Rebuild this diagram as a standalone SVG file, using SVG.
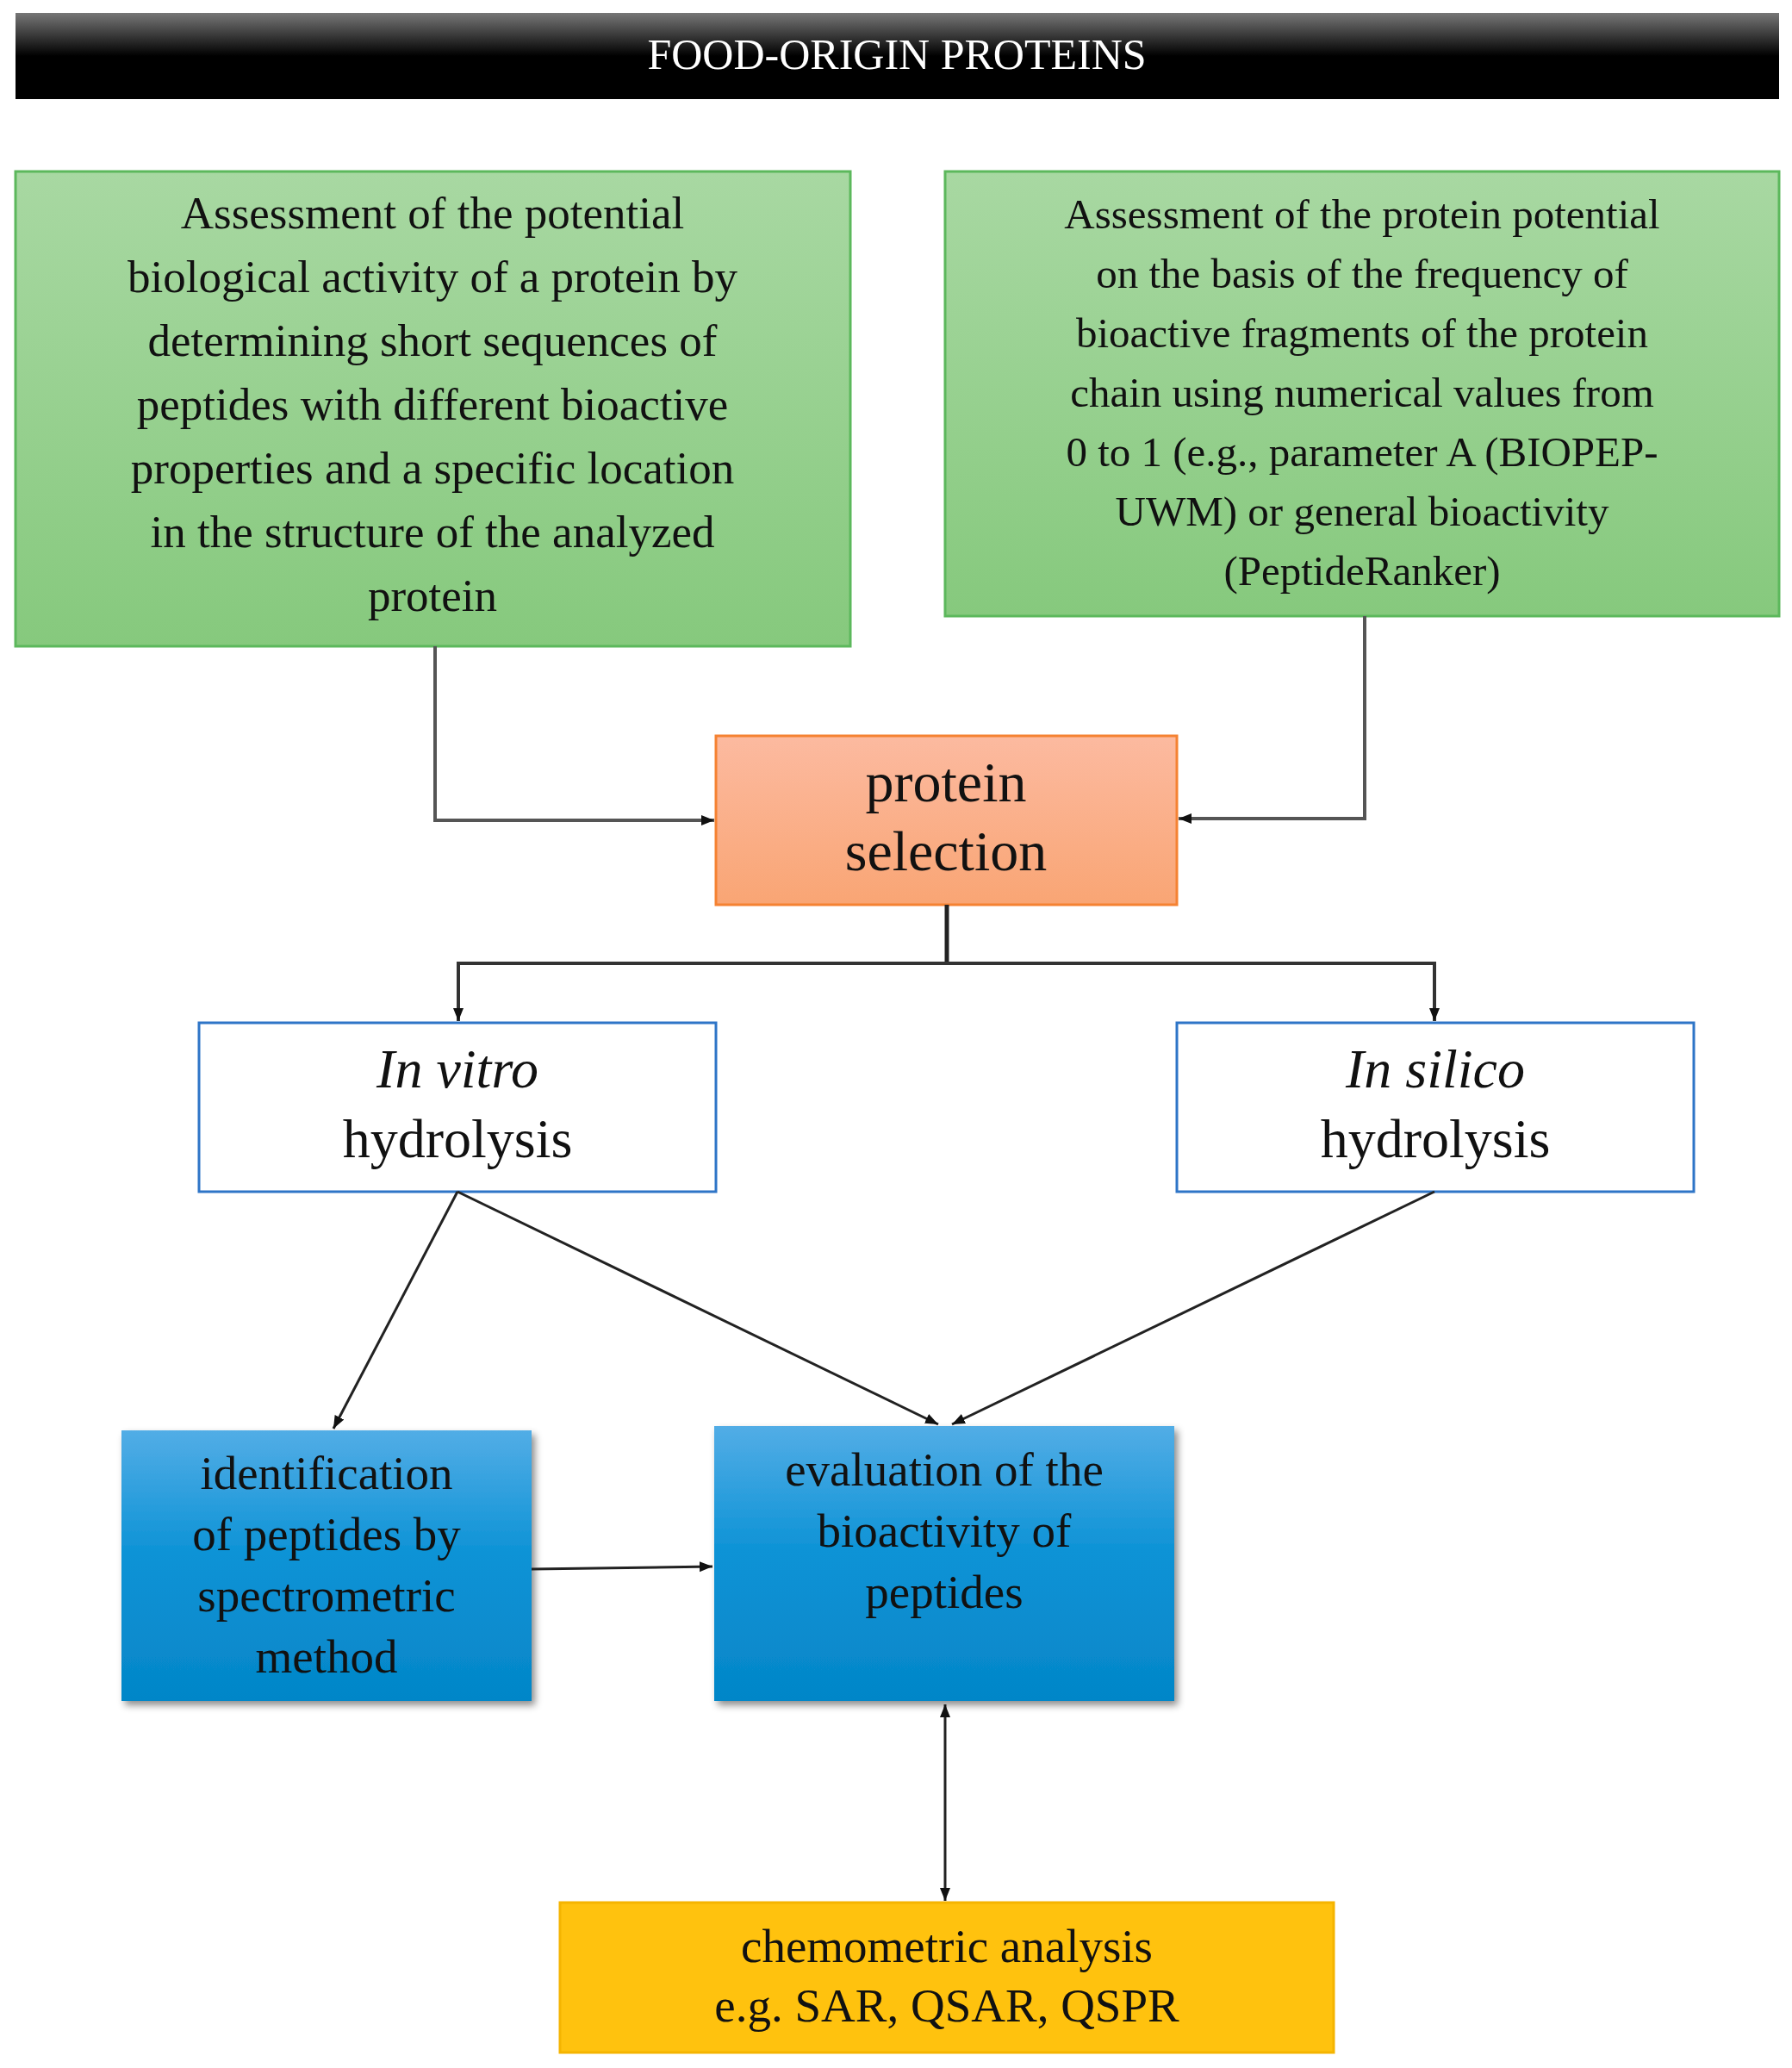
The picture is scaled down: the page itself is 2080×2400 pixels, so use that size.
<svg xmlns="http://www.w3.org/2000/svg" width="2080" height="2400" viewBox="0 0 2080 2400">
<style>
text{font-family:"Liberation Serif",serif;text-anchor:middle;fill:#111}
.g{fill:url(#gg);stroke:#5cb85c;stroke-width:3}
.c{stroke:#222;stroke-width:3;fill:none}
</style>
<defs>
<linearGradient id="hd" x1="0" y1="0" x2="0" y2="1"><stop offset="0" stop-color="#777"/><stop offset="0.5" stop-color="#000"/><stop offset="1" stop-color="#000"/></linearGradient>
<linearGradient id="gg" x1="0" y1="0" x2="0" y2="1"><stop offset="0" stop-color="#a8d8a2"/><stop offset="1" stop-color="#86c97d"/></linearGradient>
<linearGradient id="og" x1="0" y1="0" x2="0" y2="1"><stop offset="0" stop-color="#fcbaa0"/><stop offset="1" stop-color="#f9a574"/></linearGradient>
<linearGradient id="bg" x1="0" y1="0" x2="0" y2="1"><stop offset="0" stop-color="#52ade6"/><stop offset="0.45" stop-color="#0e93d6"/><stop offset="1" stop-color="#0486c8"/></linearGradient>
<filter id="sh" x="-10%" y="-10%" width="130%" height="130%"><feDropShadow dx="4" dy="5" stdDeviation="4" flood-opacity="0.45"/></filter>
<marker id="ar" markerWidth="10" markerHeight="10" refX="9" refY="5" orient="auto" markerUnits="userSpaceOnUse"><path d="M0,0 L10,5 L0,10z" fill="#111"/></marker>
<marker id="as" markerWidth="16" markerHeight="16" refX="15" refY="8" orient="auto-start-reverse" markerUnits="userSpaceOnUse"><path d="M0,2 L15,8 L0,14z" fill="#111"/></marker>
</defs>
<g id="header"><rect x="18" y="15" width="2047" height="100" fill="url(#hd)"/><text x="1041" y="80" font-size="50" style="fill:#fff">FOOD-ORIGIN PROTEINS</text></g>
<g id="left"><rect class="g" x="18" y="199" width="969" height="551"/>
<text font-size="53"><tspan x="502" y="265">Assessment of the potential</tspan><tspan x="502" y="339">biological activity of a protein by</tspan><tspan x="502" y="413">determining short sequences of</tspan><tspan x="502" y="487">peptides with different bioactive</tspan><tspan x="502" y="561">properties and a specific location</tspan><tspan x="502" y="635">in the structure of the analyzed</tspan><tspan x="502" y="709">protein</tspan></text></g>
<g id="right"><rect class="g" x="1097" y="199" width="968" height="516"/>
<text font-size="49"><tspan x="1581" y="265">Assessment of the protein potential</tspan><tspan x="1581" y="334">on the basis of the frequency of</tspan><tspan x="1581" y="403">bioactive fragments of the protein</tspan><tspan x="1581" y="472">chain using numerical values from</tspan><tspan x="1581" y="541">0 to 1 (e.g., parameter A (BIOPEP-</tspan><tspan x="1581" y="610">UWM) or general bioactivity</tspan><tspan x="1581" y="679">(PeptideRanker)</tspan></text></g>
<g id="sel"><rect x="831" y="854" width="535" height="196" fill="url(#og)" stroke="#f58232" stroke-width="3"/>
<text font-size="66"><tspan x="1098" y="930">protein</tspan><tspan x="1098" y="1010">selection</tspan></text></g>
<g id="vitro"><rect x="231" y="1187" width="600" height="196" fill="#fff" stroke="#2e75c7" stroke-width="3"/>
<text font-size="64"><tspan x="531" y="1262" font-style="italic">In vitro</tspan><tspan x="531" y="1343">hydrolysis</tspan></text></g>
<g id="silico"><rect x="1366" y="1187" width="600" height="196" fill="#fff" stroke="#2e75c7" stroke-width="3"/>
<text font-size="64"><tspan x="1666" y="1262" font-style="italic">In silico</tspan><tspan x="1666" y="1343">hydrolysis</tspan></text></g>
<g id="ident"><rect x="141" y="1660" width="476" height="314" fill="url(#bg)" filter="url(#sh)"/>
<text font-size="55"><tspan x="379" y="1728">identification</tspan><tspan x="379" y="1799">of peptides by</tspan><tspan x="379" y="1870">spectrometric</tspan><tspan x="379" y="1941">method</tspan></text></g>
<g id="eval"><rect x="829" y="1655" width="534" height="319" fill="url(#bg)" filter="url(#sh)"/>
<text font-size="55"><tspan x="1096" y="1724">evaluation of the</tspan><tspan x="1096" y="1795">bioactivity of</tspan><tspan x="1096" y="1866">peptides</tspan></text></g>
<g id="chem"><rect x="650" y="2208" width="898" height="174" fill="#ffc20e" stroke="#f5b400" stroke-width="3"/>
<text font-size="55"><tspan x="1099" y="2277">chemometric analysis</tspan><tspan x="1099" y="2346">e.g. SAR, QSAR, QSPR</tspan></text></g>
<g id="connectors">
<path class="c" style="stroke:#555;stroke-width:4" d="M505,750 V952 H829" marker-end="url(#as)"/>
<path class="c" style="stroke:#555;stroke-width:4" d="M1584,715 V950 H1368" marker-end="url(#as)"/>
<path class="c" style="stroke-width:5" d="M1099,1050 V1118"/>
<path class="c" style="stroke:#333;stroke-width:4" d="M532,1185 V1118 H1665 V1185" marker-start="url(#as)" marker-end="url(#as)"/>
<path class="c" d="M531,1383 L387,1658" marker-end="url(#as)"/>
<path class="c" d="M531,1383 L1089,1653" marker-end="url(#as)"/>
<path class="c" d="M1665,1383 L1105,1653" marker-end="url(#as)"/>
<path class="c" d="M617,1821 L827,1818" marker-end="url(#as)"/>
<path class="c" d="M1097,1978 V2206" marker-start="url(#as)" marker-end="url(#as)"/>
</g>
</svg>
